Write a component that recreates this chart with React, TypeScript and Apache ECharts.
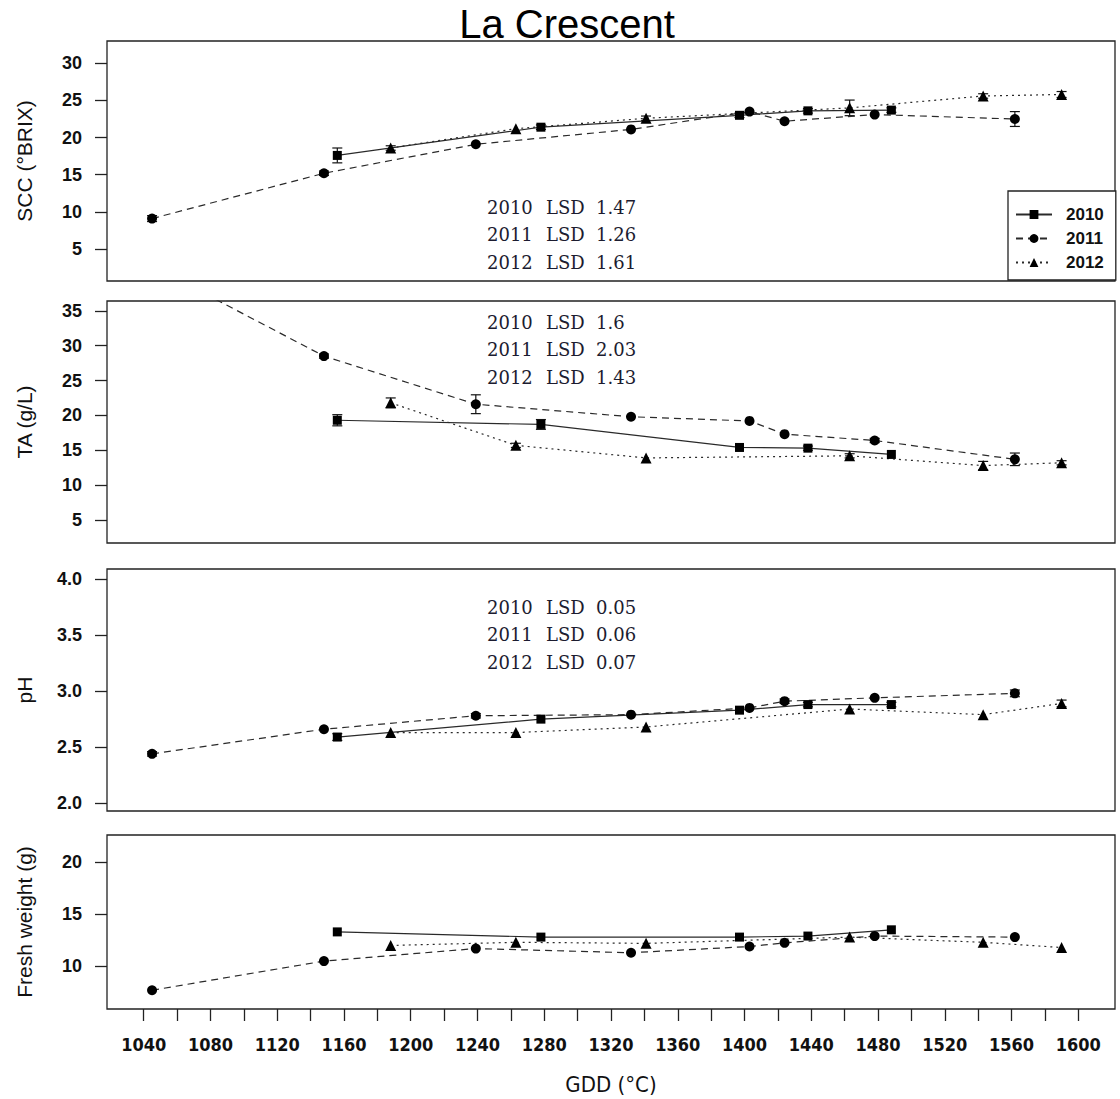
import React, { useEffect, useRef } from "react";
import * as echarts from "echarts";

// Sampling dates (growing degree days) for each season
const years = ["2010", "2011", "2012"];
const gdd2010 = [1156, 1278, 1397, 1438, 1488];
const gdd2011 = [1045, 1148, 1239, 1332, 1403, 1424, 1478, 1562];
const gdd2012 = [1188, 1263, 1341, 1463, 1543, 1590];

// Soluble solids (°Brix) and their error half-widths
const scc2010 = [17.6, 21.4, 23.0, 23.6, 23.7];
const scc2011 = [9.1, 15.2, 19.1, 21.1, 23.5, 22.2, 23.1, 22.5];
const scc2012 = [18.6, 21.2, 22.6, 24.0, 25.6, 25.8];
const sccErr2010 = [1.0, 0.3, 0.3, 0.3, 0.3];
const sccErr2011 = [0.4, 0.3, 0, 0, 0, 0, 0, 1.0];
const sccErr2012 = [0.3, 0, 0.3, 1.05, 0.3, 0.4];

// Titratable acidity (g/L)
const ta2010 = [19.3, 18.7, 15.4, 15.3, 14.4];
const ta2011 = [41.4, 28.5, 21.6, 19.8, 19.2, 17.3, 16.4, 13.7];
const ta2012 = [21.8, 15.7, 13.9, 14.2, 12.8, 13.2];
const taErr2010 = [0.8, 0.7, 0, 0.3, 0];
const taErr2011 = [0, 0.3, 1.35, 0, 0, 0, 0.3, 0.9];
const taErr2012 = [0.7, 0.3, 0, 0.3, 0.6, 0.3];

// Juice pH
const ph2010 = [2.59, 2.75, 2.83, 2.88, 2.88];
const ph2011 = [2.44, 2.66, 2.78, 2.79, 2.85, 2.91, 2.94, 2.98];
const ph2012 = [2.63, 2.63, 2.68, 2.84, 2.79, 2.89];
const phErr2010 = [0.03, 0, 0, 0.02, 0.02];
const phErr2011 = [0.02, 0, 0.02, 0, 0, 0.02, 0, 0.03];
const phErr2012 = [0, 0, 0, 0, 0, 0.03];

// Berry fresh weight (g)
const fw2010 = [13.3, 12.8, 12.8, 12.9, 13.5];
const fw2011 = [7.7, 10.5, 11.7, 11.3, 11.9, 12.25, 12.9, 12.8];
const fw2012 = [12.0, 12.3, 12.2, 12.8, 12.3, 11.8];

// LSD annotations per panel
const lsdScc = ["1.47", "1.26", "1.61"];
const lsdTa = ["1.6", "2.03", "1.43"];
const lsdPh = ["0.05", "0.06", "0.07"];

// Axis ticks and labels
const gddTicks = [
  1040, 1060, 1080, 1100, 1120, 1140, 1160, 1180, 1200, 1220, 1240, 1260, 1280, 1300, 1320,
  1340, 1360, 1380, 1400, 1420, 1440, 1460, 1480, 1500, 1520, 1540, 1560, 1580, 1600,
];
const gddLabels = [1040, 1080, 1120, 1160, 1200, 1240, 1280, 1320, 1360, 1400, 1440, 1480, 1520, 1560, 1600];
const sccTicks = [5, 10, 15, 20, 25, 30];
const taTicks = [5, 10, 15, 20, 25, 30, 35];
const phTicks = [2.0, 2.5, 3.0, 3.5, 4.0];
const fwTicks = [10, 15, 20];

const SANS = '"Liberation Sans", Arial, sans-serif';
const NARROW = '"Liberation Sans Narrow", "DejaVu Sans Condensed", "Liberation Sans", sans-serif';
const SERIF = '"DejaVu Serif", Cambria, serif';

type Panel = {
  name: string;
  min: number;
  max: number;
  ticks: number[];
  fmt: (v: number) => string;
  top: number;
  height: number;
  values: number[][];
  errors: (number[] | null)[];
  lsd: string[] | null;
  lsdTop: number;
};

const panels: Panel[] = [
  {
    name: "SCC (°BRIX)", min: 0.7, max: 33.0, ticks: sccTicks, fmt: (v) => String(v),
    top: 41, height: 240, values: [scc2010, scc2011, scc2012],
    errors: [sccErr2010, sccErr2011, sccErr2012], lsd: lsdScc, lsdTop: 207,
  },
  {
    name: "TA (g/L)", min: 1.7, max: 36.4, ticks: taTicks, fmt: (v) => String(v),
    top: 301, height: 242, values: [ta2010, ta2011, ta2012],
    errors: [taErr2010, taErr2011, taErr2012], lsd: lsdTa, lsdTop: 322,
  },
  {
    name: "pH", min: 1.93, max: 4.09, ticks: phTicks, fmt: (v) => v.toFixed(1),
    top: 569, height: 242, values: [ph2010, ph2011, ph2012],
    errors: [phErr2010, phErr2011, phErr2012], lsd: lsdPh, lsdTop: 607,
  },
  {
    name: "Fresh weight (g)", min: 5.9, max: 22.6, ticks: fwTicks, fmt: (v) => String(v),
    top: 835, height: 174, values: [fw2010, fw2011, fw2012],
    errors: [null, null, null], lsd: null, lsdTop: 0,
  },
];

const gddByYear = [gdd2010, gdd2011, gdd2012];
const yearStyles = [
  { symbol: "rect", symbolSize: 9, dash: "solid" as any },
  { symbol: "circle", symbolSize: 10, dash: [7, 5] as any },
  { symbol: "triangle", symbolSize: 11, dash: [2, 4] as any },
];

const errorBarRender = (_params: any, api: any) => {
  const x = api.value(0);
  const lo = api.value(1);
  const hi = api.value(2);
  const a = api.coord([x, hi]);
  const b = api.coord([x, lo]);
  const w = 5;
  const style = { stroke: "#111", lineWidth: 1.2 };
  return {
    type: "group",
    children: [
      { type: "line", shape: { x1: a[0], y1: a[1], x2: b[0], y2: b[1] }, style },
      { type: "line", shape: { x1: a[0] - w, y1: a[1], x2: a[0] + w, y2: a[1] }, style },
      { type: "line", shape: { x1: b[0] - w, y1: b[1], x2: b[0] + w, y2: b[1] }, style },
    ],
  };
};

function buildOption() {
  const grids: any[] = [];
  const xAxes: any[] = [];
  const yAxes: any[] = [];
  const series: any[] = [];
  const graphics: any[] = [];

  panels.forEach((p, i) => {
    const isLast = i === panels.length - 1;
    grids.push({
      left: 107, width: 1008, top: p.top, height: p.height,
      show: true, borderColor: "#222", borderWidth: 1.3, backgroundColor: "transparent",
    });
    xAxes.push({
      type: "value", gridIndex: i, min: 1018, max: 1622,
      axisLine: { show: false },
      splitLine: { show: false },
      axisTick: isLast
        ? { show: true, customValues: gddTicks, length: 12, lineStyle: { color: "#222", width: 1.3 } }
        : { show: false },
      axisLabel: isLast
        ? {
            show: true, customValues: gddLabels, margin: 26, fontFamily: NARROW,
            fontWeight: "bold", fontSize: 18, color: "#111", formatter: (v: number) => String(v),
          }
        : { show: false },
      name: isLast ? "GDD (°C)" : "",
      nameLocation: "middle",
      nameGap: 64,
      nameTextStyle: { fontFamily: NARROW, fontSize: 22, color: "#111" },
    });
    yAxes.push({
      type: "value", gridIndex: i, min: p.min, max: p.max,
      axisLine: { show: false },
      splitLine: { show: false },
      axisTick: { show: true, customValues: p.ticks, length: 12, lineStyle: { color: "#222", width: 1.3 } },
      axisLabel: {
        show: true, customValues: p.ticks, margin: 25, formatter: p.fmt,
        fontFamily: SANS, fontWeight: "bold", fontSize: 18, color: "#111",
      },
      name: p.name,
      nameLocation: "middle",
      nameGap: 72,
      nameRotate: 90,
      nameTextStyle: { fontFamily: SANS, fontSize: 21, color: "#111" },
    });

    years.forEach((yr, k) => {
      const xs = gddByYear[k];
      const ys = p.values[k];
      const st = yearStyles[k];
      series.push({
        type: "line", name: yr, xAxisIndex: i, yAxisIndex: i,
        data: xs.map((x, j) => [x, ys[j]]),
        symbol: st.symbol, symbolSize: st.symbolSize,
        showSymbol: true, clip: true,
        lineStyle: { color: "#2a2a2a", width: 1.2, type: st.dash },
        itemStyle: { color: "#000" },
        z: 3,
      });
      const err = p.errors[k];
      if (err) {
        const bars = xs
          .map((x, j) => [x, ys[j] - err[j], ys[j] + err[j], err[j]])
          .filter((d) => d[3] > 0)
          .map((d) => [d[0], d[1], d[2]]);
        if (bars.length) {
          series.push({
            type: "custom", name: "err" + yr + "-" + i, xAxisIndex: i, yAxisIndex: i,
            data: bars, renderItem: errorBarRender, clip: true,
            encode: { x: 0, y: [1, 2] }, z: 2, silent: true,
          });
        }
      }
    });

    if (p.lsd) {
      p.lsd.forEach((val, k) => {
        const y = p.lsdTop + k * 27.5;
        const st = { fontFamily: SERIF, fontSize: 18, fill: "#1c1c30", verticalAlign: "middle" };
        graphics.push({ type: "text", x: 487, y, style: { ...st, text: years[k] } });
        graphics.push({ type: "text", x: 546, y, style: { ...st, text: "LSD" } });
        graphics.push({ type: "text", x: 596, y, style: { ...st, text: val } });
      });
    }
  });

  graphics.push({
    type: "text", x: 567, y: 4,
    style: {
      text: "La Crescent", fontFamily: SANS, fontSize: 40, fill: "#000",
      align: "center", verticalAlign: "top",
    },
  });

  return {
    animation: false,
    backgroundColor: "#fff",
    grid: grids,
    xAxis: xAxes,
    yAxis: yAxes,
    legend: {
      data: years,
      orient: "vertical",
      left: 1008,
      top: 191,
      padding: [15, 12, 9, 7],
      itemWidth: 36,
      itemHeight: 11,
      itemGap: 7,
      borderColor: "#222",
      borderWidth: 1.3,
      backgroundColor: "#fff",
      selectedMode: false,
      textStyle: { fontFamily: SANS, fontWeight: "bold", fontSize: 17, color: "#111", padding: [0, 0, 0, 9] },
    },
    graphic: graphics,
    series,
  };
}

export default function App() {
  const ref = useRef<HTMLDivElement>(null);
  useEffect(() => {
    if (!ref.current) return;
    const chart = echarts.init(ref.current, undefined, { renderer: "svg" });
    chart.setOption(buildOption() as any);
    return () => chart.dispose();
  }, []);
  return (
    <div
      ref={ref}
      style={{ position: "absolute", left: 0, top: 0, width: 1120, height: 1099, background: "#fff" }}
    />
  );
}
